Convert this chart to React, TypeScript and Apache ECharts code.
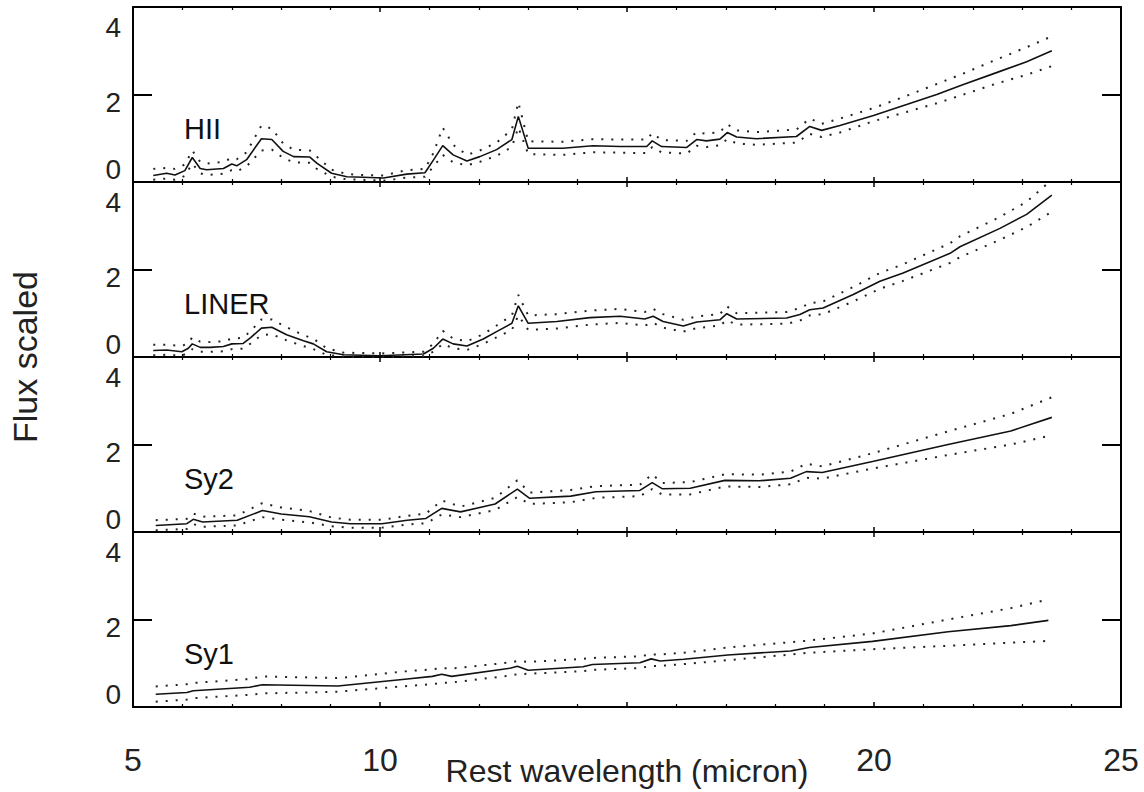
import React, { useEffect, useRef } from "react";
import * as echarts from "echarts";

// ---------- data ----------
const panelNames = ["HII", "LINER", "Sy2", "Sy1"];

const hiiX = [5.41, 5.68, 5.85, 6.05, 6.2, 6.36, 6.49, 6.83, 7.0, 7.1, 7.3, 7.6, 7.81, 8.04, 8.25, 8.58, 8.72, 9.02, 9.33, 9.66, 10.07, 10.54, 10.91, 11.08, 11.27, 11.48, 11.76, 12.02, 12.36, 12.67, 12.8, 13.0, 13.7, 14.31, 14.86, 15.4, 15.51, 15.7, 16.21, 16.41, 16.61, 16.88, 17.03, 17.22, 17.62, 18.43, 18.7, 18.94, 19.31, 19.99, 20.66, 21.27, 21.81, 22.48, 23.09, 23.6];
const hiiMean = [0.15, 0.2, 0.16, 0.26, 0.56, 0.31, 0.28, 0.31, 0.41, 0.37, 0.51, 0.99, 0.97, 0.7, 0.58, 0.57, 0.43, 0.2, 0.12, 0.11, 0.09, 0.18, 0.21, 0.5, 0.83, 0.62, 0.48, 0.58, 0.74, 0.97, 1.5, 0.77, 0.77, 0.83, 0.81, 0.81, 0.94, 0.81, 0.79, 0.97, 0.94, 0.98, 1.13, 1.03, 0.99, 1.04, 1.27, 1.18, 1.29, 1.52, 1.77, 2.0, 2.23, 2.5, 2.75, 3.0];
const hiiUpper = [0.3, 0.32, 0.3, 0.4, 0.72, 0.46, 0.42, 0.46, 0.55, 0.52, 0.68, 1.29, 1.22, 0.88, 0.74, 0.72, 0.58, 0.28, 0.18, 0.16, 0.15, 0.27, 0.3, 0.66, 1.24, 0.85, 0.62, 0.72, 0.9, 1.2, 1.82, 0.93, 0.92, 0.98, 0.97, 0.97, 1.12, 0.96, 0.94, 1.14, 1.1, 1.14, 1.32, 1.18, 1.14, 1.2, 1.45, 1.33, 1.45, 1.69, 1.97, 2.24, 2.48, 2.8, 3.08, 3.33];
const hiiLower = [0.05, 0.08, 0.05, 0.14, 0.42, 0.2, 0.16, 0.19, 0.27, 0.24, 0.36, 0.72, 0.74, 0.55, 0.45, 0.44, 0.3, 0.12, 0.06, 0.05, 0.03, 0.1, 0.12, 0.35, 0.62, 0.45, 0.38, 0.46, 0.6, 0.8, 1.25, 0.64, 0.62, 0.68, 0.67, 0.66, 0.8, 0.68, 0.65, 0.83, 0.8, 0.84, 0.98, 0.88, 0.85, 0.9, 1.1, 1.03, 1.13, 1.39, 1.6, 1.8, 2.0, 2.25, 2.45, 2.65];

const linerX = [5.41, 5.68, 5.99, 6.12, 6.2, 6.36, 6.56, 6.83, 7.0, 7.23, 7.37, 7.6, 7.81, 8.11, 8.45, 8.65, 8.92, 9.26, 10.0, 10.88, 11.08, 11.27, 11.48, 11.76, 12.09, 12.36, 12.67, 12.8, 13.0, 13.58, 14.25, 14.86, 15.36, 15.53, 15.73, 16.14, 16.41, 16.88, 17.02, 17.22, 18.23, 18.5, 18.7, 18.97, 19.58, 20.12, 20.59, 21.54, 21.74, 22.55, 23.09, 23.6];
const linerMean = [0.15, 0.16, 0.12, 0.2, 0.3, 0.22, 0.22, 0.24, 0.3, 0.31, 0.43, 0.66, 0.68, 0.51, 0.37, 0.3, 0.12, 0.05, 0.03, 0.07, 0.2, 0.41, 0.3, 0.25, 0.41, 0.58, 0.77, 1.17, 0.77, 0.81, 0.9, 0.93, 0.87, 0.93, 0.81, 0.71, 0.8, 0.85, 0.99, 0.87, 0.89, 0.97, 1.08, 1.12, 1.43, 1.73, 1.92, 2.37, 2.52, 2.94, 3.26, 3.7];
const linerUpper = [0.28, 0.28, 0.25, 0.32, 0.45, 0.35, 0.34, 0.36, 0.42, 0.44, 0.58, 0.86, 0.86, 0.68, 0.5, 0.42, 0.2, 0.1, 0.08, 0.12, 0.3, 0.6, 0.42, 0.36, 0.52, 0.72, 0.95, 1.42, 0.95, 0.98, 1.06, 1.1, 1.03, 1.1, 0.98, 0.85, 0.93, 0.98, 1.16, 1.0, 1.03, 1.12, 1.23, 1.27, 1.6, 1.92, 2.12, 2.6, 2.76, 3.2, 3.55, 4.05];
const linerLower = [0.04, 0.05, 0.03, 0.1, 0.18, 0.12, 0.12, 0.13, 0.18, 0.19, 0.3, 0.5, 0.52, 0.38, 0.25, 0.18, 0.05, 0.01, 0.0, 0.02, 0.12, 0.3, 0.2, 0.16, 0.3, 0.45, 0.62, 0.95, 0.62, 0.65, 0.74, 0.78, 0.72, 0.78, 0.67, 0.58, 0.66, 0.72, 0.84, 0.74, 0.76, 0.83, 0.95, 0.98, 1.27, 1.56, 1.74, 2.15, 2.28, 2.68, 2.97, 3.32];

const sy2X = [5.46, 6.09, 6.22, 6.41, 7.11, 7.62, 8.0, 8.57, 9.02, 9.4, 10.04, 10.55, 10.93, 11.25, 11.63, 12.33, 12.78, 13.03, 13.86, 14.37, 15.26, 15.51, 15.71, 16.28, 16.98, 17.68, 18.31, 18.63, 18.95, 19.97, 21.5, 22.77, 23.6];
const sy2Mean = [0.15, 0.19, 0.29, 0.23, 0.27, 0.49, 0.41, 0.35, 0.23, 0.19, 0.19, 0.27, 0.31, 0.54, 0.46, 0.64, 0.98, 0.77, 0.82, 0.92, 0.95, 1.13, 0.99, 1.0, 1.18, 1.17, 1.23, 1.38, 1.36, 1.61, 2.0, 2.31, 2.62];
const sy2Upper = [0.27, 0.3, 0.42, 0.35, 0.38, 0.66, 0.56, 0.48, 0.33, 0.28, 0.28, 0.37, 0.42, 0.72, 0.58, 0.78, 1.18, 0.9, 0.96, 1.05, 1.08, 1.32, 1.12, 1.14, 1.32, 1.31, 1.38, 1.56, 1.5, 1.8, 2.3, 2.7, 3.08];
const sy2Lower = [0.04, 0.07, 0.18, 0.12, 0.15, 0.34, 0.28, 0.22, 0.13, 0.1, 0.1, 0.17, 0.2, 0.4, 0.34, 0.5, 0.8, 0.64, 0.68, 0.78, 0.82, 0.98, 0.86, 0.86, 1.04, 1.03, 1.09, 1.24, 1.22, 1.45, 1.76, 2.0, 2.21];

const sy1X = [5.46, 6.09, 6.22, 7.36, 7.62, 9.15, 10.55, 11.06, 11.25, 11.45, 12.65, 12.78, 13.0, 14.11, 14.3, 15.26, 15.49, 15.67, 16.15, 17.04, 18.31, 18.69, 19.97, 21.5, 22.77, 23.53];
const sy1Mean = [0.29, 0.33, 0.37, 0.45, 0.51, 0.48, 0.64, 0.7, 0.75, 0.7, 0.89, 0.93, 0.84, 0.92, 0.97, 1.01, 1.1, 1.05, 1.09, 1.19, 1.28, 1.36, 1.5, 1.72, 1.86, 1.98];
const sy1Upper = [0.47, 0.52, 0.55, 0.64, 0.7, 0.66, 0.82, 0.86, 0.89, 0.88, 1.02, 1.05, 1.03, 1.1, 1.12, 1.16, 1.2, 1.2, 1.24, 1.36, 1.48, 1.52, 1.68, 2.0, 2.26, 2.46];
const sy1Lower = [0.12, 0.17, 0.2, 0.28, 0.31, 0.35, 0.48, 0.52, 0.55, 0.56, 0.72, 0.75, 0.76, 0.82, 0.85, 0.89, 0.94, 0.94, 0.98, 1.07, 1.2, 1.24, 1.32, 1.4, 1.47, 1.51];

// the reference shows no "15" (the axis title sits there)
const xTickLabels = [5, 10, 20, 25];
const yTickLabels = [0, 2, 4];

// ---------- layout ----------
const GRID_LEFT = 133;
const GRID_WIDTH = 988;
const GRID_TOP = 7;
const GRID_H = 175;
const FONT = "'Liberation Sans', Arial, Helvetica, sans-serif";

const panels = [
  { x: hiiX, mean: hiiMean, up: hiiUpper, lo: hiiLower },
  { x: linerX, mean: linerMean, up: linerUpper, lo: linerLower },
  { x: sy2X, mean: sy2Mean, up: sy2Upper, lo: sy2Lower },
  { x: sy1X, mean: sy1Mean, up: sy1Upper, lo: sy1Lower },
];

const zip = (xs: number[], ys: number[]) => xs.map((x, i) => [x, ys[i]]);

function buildOption() {
  const grid: any[] = [];
  const xAxis: any[] = [];
  const yAxis: any[] = [];
  const series: any[] = [];
  const graphic: any[] = [];

  const axisLine = { show: true, onZero: false, lineStyle: { color: "#000", width: 2 } };

  panels.forEach((p, i) => {
    const top = GRID_TOP + i * GRID_H;
    grid.push({
      left: GRID_LEFT,
      width: GRID_WIDTH,
      top,
      height: GRID_H,
      containLabel: false,
      outerBoundsMode: "none",
    });

    const isLast = i === panels.length - 1;
    const xBase = {
      gridIndex: i,
      type: "value",
      min: 5,
      max: 25,
      interval: 5,
      axisLine,
      axisTick: { show: true, inside: true, length: 5, lineStyle: { color: "#000", width: 1.5 } },
      minorTick: { show: true, splitNumber: 5, length: 3, lineStyle: { color: "#000", width: 1.2 } },
      splitLine: { show: false },
      minorSplitLine: { show: false },
    };
    xAxis.push({
      ...xBase,
      position: "bottom",
      name: isLast ? "Rest wavelength (micron)" : "",
      nameLocation: "middle",
      nameGap: 48,
      nameMoveOverlap: false,
      nameTextStyle: { fontFamily: FONT, fontSize: 32, color: "#222" },
      axisLabel: {
        show: isLast,
        margin: 37,
        fontFamily: FONT,
        fontSize: 32,
        color: "#222",
        formatter: (v: number) => (xTickLabels.includes(v) ? String(v) : ""),
      },
    });
    xAxis.push({ ...xBase, position: "top", axisLabel: { show: false } });

    const yBase = {
      gridIndex: i,
      type: "value",
      min: 0,
      max: 4,
      interval: 2,
      axisLine,
      axisTick: { show: true, inside: true, length: 19, lineStyle: { color: "#000", width: 2 } },
      splitLine: { show: false },
    };
    yAxis.push({
      ...yBase,
      position: "left",
      axisLabel: {
        show: true,
        margin: 12,
        fontFamily: FONT,
        fontSize: 28,
        color: "#222",
        formatter: (v: number) => (yTickLabels.includes(v) ? `{a${v}|${v}}` : ""),
        rich: {
          a0: { fontFamily: FONT, fontSize: 28, color: "#222", padding: [0, 0, 26, 0] },
          a2: { fontFamily: FONT, fontSize: 28, color: "#222", padding: [16, 0, 0, 0] },
          a4: { fontFamily: FONT, fontSize: 28, color: "#222", padding: [40, 0, 0, 0] },
        },
      },
    });
    yAxis.push({ ...yBase, position: "right", axisLabel: { show: false } });

    const xi = i * 2;
    const yi = i * 2;
    series.push({
      type: "line",
      xAxisIndex: xi,
      yAxisIndex: yi,
      data: zip(p.x, p.mean),
      showSymbol: false,
      lineStyle: { color: "#111", width: 1.6 },
      z: 3,
    });
    [p.up, p.lo].forEach((arr) => {
      series.push({
        type: "line",
        xAxisIndex: xi,
        yAxisIndex: yi,
        data: zip(p.x, arr),
        showSymbol: false,
        lineStyle: { color: "#222", width: 2, type: [2, 8] },
        z: 2,
      });
    });

    graphic.push({
      type: "text",
      left: 184,
      top: top + 107,
      style: { text: panelNames[i], fontFamily: FONT, fontSize: 29, fill: "#111" },
    });
  });

  graphic.push({
    type: "text",
    x: 25,
    y: GRID_TOP + (GRID_H * 4) / 2,
    rotation: Math.PI / 2,
    style: {
      text: "Flux scaled",
      fontFamily: FONT,
      fontSize: 34,
      fill: "#222",
      align: "center",
      verticalAlign: "middle",
    },
  });

  return {
    animation: false,
    backgroundColor: "#fff",
    grid,
    xAxis,
    yAxis,
    series,
    graphic,
  };
}

export default function App() {
  const ref = useRef<HTMLDivElement>(null);
  useEffect(() => {
    if (!ref.current) return;
    const chart = echarts.init(ref.current, undefined, { renderer: "svg" });
    chart.setOption(buildOption() as any);
    return () => chart.dispose();
  }, []);
  return (
    <div
      ref={ref}
      style={{ position: "fixed", left: 0, top: 0, width: 1144, height: 792, background: "#fff" }}
    />
  );
}
